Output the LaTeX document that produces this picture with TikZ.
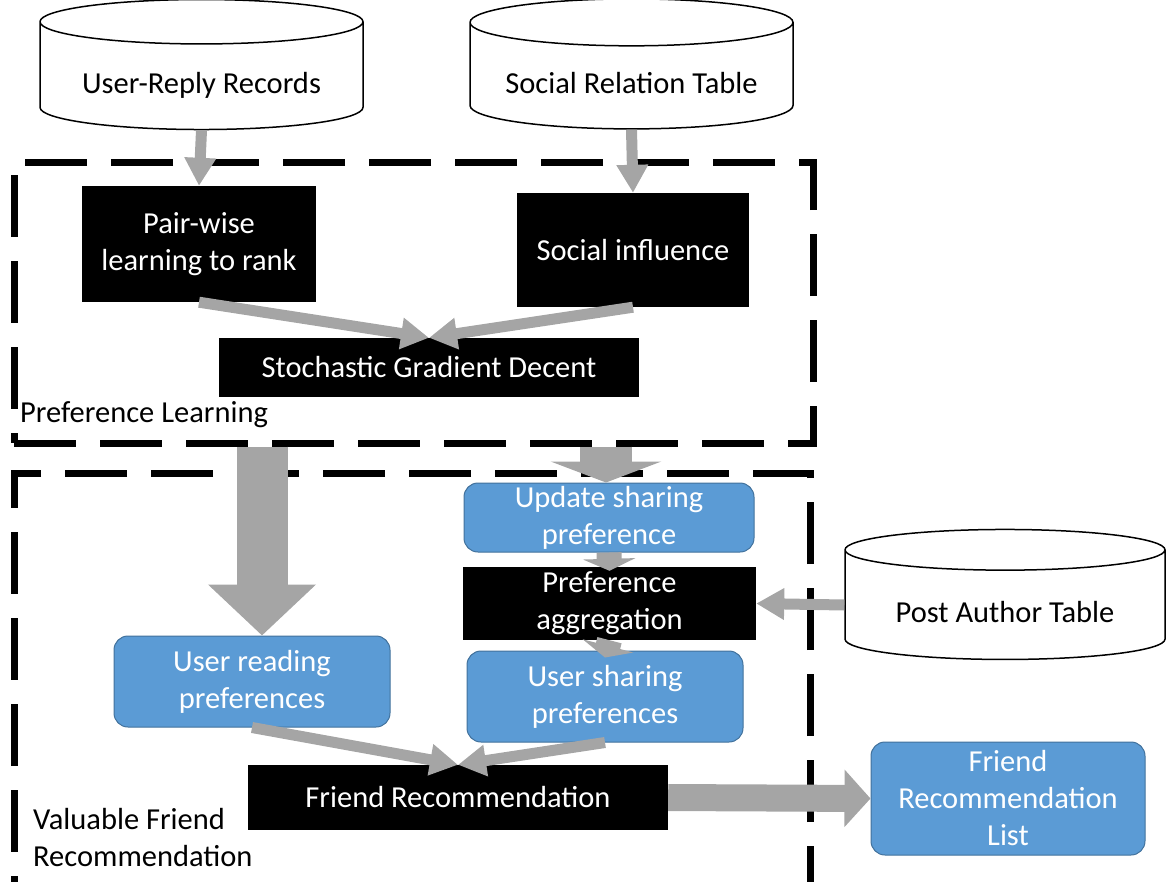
\documentclass[tikz,border=0pt]{standalone}
\usepackage{fontspec}
\setmainfont{Carlito}
\usetikzlibrary{arrows.meta,shapes.geometric,calc}

\definecolor{arrowgray}{HTML}{A5A5A5}
\definecolor{boxblue}{HTML}{5B9BD5}
\definecolor{boxblueline}{HTML}{41719C}

\tikzset{
  db/.style={cylinder, shape border rotate=90, draw, line width=1.5pt, fill=white,
    aspect=0.186, minimum width=323pt, minimum height=130pt, inner sep=0pt,
    text height=38pt, text depth=4pt},
  blackbox/.style={fill=black, text=white, align=center, inner sep=0pt},
  bluebox/.style={fill=boxblue, draw=boxblueline, line width=1pt, rounded corners=14pt,
    text=white, align=center, inner sep=0pt},
  dashbox/.style={draw, line width=7pt, dash pattern=on 62pt off 24pt, inner sep=0pt},
  flowarrow/.style={draw=arrowgray, line width=11pt, -{Triangle[width=30pt,length=28pt]}},
  blockarrow/.style n args={3}{draw=arrowgray, line width=#1, -{Triangle[width=#2,length=#3]}}
}

\begin{document}
\begin{tikzpicture}[x=1pt,y=-1pt,font=\fontsize{30.5}{37}\selectfont]
\useasboundingbox (0,0) rectangle (1166,881);

% the two stages
\node[dashbox, minimum width=799pt, minimum height=281pt] (learnbox) at (413.5,302.5) {};
\node[dashbox, minimum width=796pt, minimum height=413pt] (recbox) at (412,679.5) {};
\node[anchor=west, inner sep=0pt] (learnlabel) at (20,415) {Preference Learning};
\node[anchor=west, align=left, inner sep=0pt] (reclabel) at (33,838) {Valuable Friend\\Recommendation};

% data tables
\node[db] (replydb) at (201.5,76) {User-Reply Records};
\node[db] (socialdb) at (631.5,76) {Social Relation Table};
\node[db, minimum width=320pt] (authordb) at (1005,605) {Post Author Table};

% preference learning
\node[blackbox, minimum width=234pt, minimum height=116pt] (pair) at (199,244) {Pair-wise\\learning to rank};
\node[blackbox, minimum width=232pt, minimum height=114pt] (social) at (633,250) {Social influence};
\node[blackbox, minimum width=420pt, minimum height=59pt] (sgd) at (429,367.5) {Stochastic Gradient Decent};

% recommendation
\node[bluebox, minimum width=290pt, minimum height=69pt] (update) at (609,517.5) {Update sharing\\preference};
\node[blackbox, minimum width=293pt, minimum height=73pt] (agg) at (609.5,603.5) {Preference\\aggregation};
\node[bluebox, minimum width=276pt, minimum height=91pt] (ushare) at (605,696.5) {User sharing\\preferences};
\node[bluebox, minimum width=276pt, minimum height=91pt] (uread) at (252,681.5) {User reading\\preferences};
\node[blackbox, minimum width=420pt, minimum height=65pt] (frec) at (458,797.5) {Friend Recommendation};
\node[bluebox, minimum width=274pt, minimum height=113pt] (flist) at (1008,798.5) {Friend\\Recommendation\\List};

% connectors
\draw[flowarrow] (replydb.south) -- (pair.north);
\draw[flowarrow] (socialdb.south) -- (social.north);
\draw[flowarrow] (pair.south) -- (sgd.north);
\draw[flowarrow] (social.south) -- (sgd.north);
\draw[flowarrow] (authordb.west) -- (agg.east);
\draw[flowarrow] (uread.south) -- (frec.north);
\draw[flowarrow] (ushare.south) -- (frec.north);

\draw[blockarrow={51pt}{105pt}{51pt}] ($(uread.north |- learnbox.south)+(10,0)$) -- ($(uread.north)+(10,0)$);
\draw[blockarrow={52pt}{110pt}{21pt}] ($(update.north |- learnbox.south)+(-3,0)$) -- ($(update.north)+(-3,0)$);
\draw[blockarrow={25pt}{52pt}{12pt}] (update.south) -- ($(agg.north)+(0,4)$);
\draw[blockarrow={25pt}{52pt}{12pt}] (agg.south) -- ($(ushare.north)+(0,7)$);
\draw[blockarrow={27pt}{56pt}{26pt}] (frec.east) -- (flist.west);

\end{tikzpicture}
\end{document}
